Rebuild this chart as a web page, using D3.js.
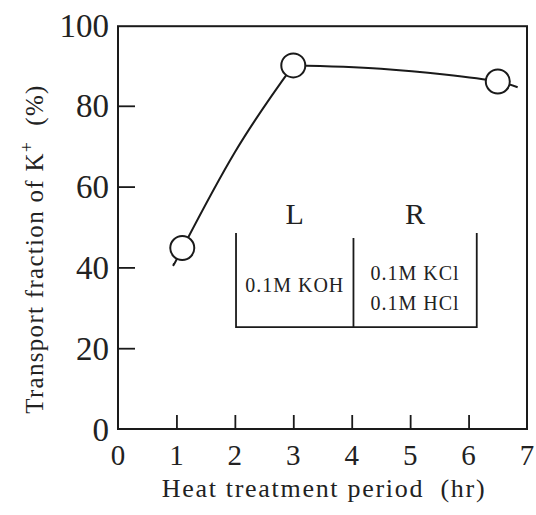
<!DOCTYPE html>
<html>
<head>
<meta charset="utf-8">
<script src="https://cdn.jsdelivr.net/npm/d3@7"></script>
<style>
    body { margin: 0; background: #fff; }
    svg text { font-family: "Liberation Serif", "DejaVu Serif", serif; fill: #222; }
</style>
</head>
<body>
<div id="chart"></div>
<script>
// measured points (hr, %)
let pointHours = [1.1, 3, 6.5];
let pointValues = [44.8, 90, 86];

// hand drawn fit curve, rising part and plateau part
let riseHours = [0.96, 1.1, 2, 3];
let riseValues = [41, 44.6, 68.5, 90];
let plateauHours = [3, 4.5, 6.5, 6.84];
let plateauValues = [90, 89.2, 86, 84.6];

let xTicks = [0, 1, 2, 3, 4, 5, 6, 7];
let yTicks = [0, 20, 40, 60, 80, 100];

// inset cell sketch: L / R compartments
let insetLeft = ["0.1M KOH"];
let insetRight = ["0.1M KCl", "0.1M HCl"];

let width = 536, height = 515;
let margin = {top: 25, right: 9, bottom: 86, left: 118};

let svg = d3.select("#chart").append("svg")
    .attr("width", width)
    .attr("height", height);

svg.append("rect").attr("width", width).attr("height", height).attr("fill", "#fff");

let x = d3.scaleLinear().domain([0, 7]).range([margin.left, width - margin.right]);
let y = d3.scaleLinear().domain([0, 100]).range([height - margin.bottom, margin.top]);

let ink = "#1a1a1a";

// frame
svg.append("rect")
    .attr("x", x(0))
    .attr("y", y(99.7))
    .attr("width", x(7) - x(0))
    .attr("height", y(0) - y(99.7))
    .attr("fill", "none")
    .attr("stroke", ink)
    .attr("stroke-width", 2);

// ticks pointing inward
let xAxis = d3.axisTop(x).tickValues(xTicks.slice(1, -1)).tickSize(14).tickFormat("");
svg.append("g")
    .attr("transform", `translate(0, ${y(0)})`)
    .call(xAxis)
    .call(g => g.select(".domain").remove())
    .selectAll("line").attr("stroke", ink).attr("stroke-width", 1.8);

let yAxis = d3.axisRight(y).tickValues(yTicks.slice(1, -1)).tickSize(17).tickFormat("");
svg.append("g")
    .attr("transform", `translate(${x(0)}, 0)`)
    .call(yAxis)
    .call(g => g.select(".domain").remove())
    .selectAll("line").attr("stroke", ink).attr("stroke-width", 1.8);

// tick labels
svg.selectAll(".xlab")
    .data(xTicks)
    .enter().append("text")
    .attr("class", "xlab")
    .attr("x", d => x(d))
    .attr("y", y(0) + 36)
    .attr("text-anchor", "middle")
    .style("font-size", "29px")
    .text(d => d);

svg.selectAll(".ylab")
    .data(yTicks)
    .enter().append("text")
    .attr("class", "ylab")
    .attr("x", x(0) - 9)
    .attr("y", d => y(d))
    .attr("dy", "0.35em")
    .attr("text-anchor", "end")
    .style("font-size", "33px")
    .text(d => d);

// axis titles
svg.append("text")
    .attr("x", 324)
    .attr("y", 497)
    .attr("text-anchor", "middle")
    .style("font-size", "26px")
    .style("letter-spacing", "1.7px")
    .text("Heat treatment period\u00a0\u00a0(hr)");

let yTitle = svg.append("text")
    .attr("transform", `translate(43, 249) rotate(-90)`)
    .attr("text-anchor", "middle")
    .style("font-size", "25px")
    .style("letter-spacing", "1.3px");
yTitle.append("tspan").text("Transport fraction of K");
yTitle.append("tspan").attr("dy", -10).style("font-size", "18px").text("+");
yTitle.append("tspan").attr("dy", 10).text("\u00a0\u00a0(%)");

// curve
let riseLine = d3.line()
    .x(d => x(d.h))
    .y(d => y(d.v))
    .curve(d3.curveNatural);

let plateauLine = d3.line()
    .x(d => x(d.h))
    .y(d => y(d.v))
    .curve(d3.curveCatmullRom.alpha(0.5));

svg.append("path")
    .datum(riseHours.map((h, i) => ({h: h, v: riseValues[i]})))
    .attr("d", riseLine)
    .attr("fill", "none")
    .attr("stroke", ink)
    .attr("stroke-width", 2);

svg.append("path")
    .datum(plateauHours.map((h, i) => ({h: h, v: plateauValues[i]})))
    .attr("d", plateauLine)
    .attr("fill", "none")
    .attr("stroke", ink)
    .attr("stroke-width", 2);

// points
let points = pointHours.map((h, i) => ({h: h, v: pointValues[i]}));
svg.selectAll(".pt")
    .data(points)
    .enter().append("circle")
    .attr("class", "pt")
    .attr("cx", d => x(d.h))
    .attr("cy", d => y(d.v))
    .attr("r", 12)
    .attr("fill", "#fff")
    .attr("stroke", ink)
    .attr("stroke-width", 2);

// inset: two compartment cell
let inset = svg.append("g");
let bx0 = x(2.02), bxm = x(4.03), bx1 = x(6.14);
let byTop = y(48.5), byMid = y(47.3), byBot = y(25.2);

inset.append("path")
    .attr("d", `M${bx0},${byTop}V${byBot}H${bx1}V${byTop}M${bxm},${byMid}V${byBot}`)
    .attr("fill", "none")
    .attr("stroke", ink)
    .attr("stroke-width", 1.8);

inset.append("text")
    .attr("x", (bx0 + bxm) / 2)
    .attr("y", y(50.8))
    .attr("text-anchor", "middle")
    .style("font-size", "30px")
    .text("L");

inset.append("text")
    .attr("x", (bxm + bx1) / 2)
    .attr("y", y(50.8))
    .attr("text-anchor", "middle")
    .style("font-size", "30px")
    .text("R");

inset.selectAll(".lsol")
    .data(insetLeft)
    .enter().append("text")
    .attr("x", (bx0 + bxm) / 2)
    .attr("y", y(33.9))
    .attr("text-anchor", "middle")
    .style("font-size", "20px")
    .style("letter-spacing", "1px")
    .text(d => d);

inset.selectAll(".rsol")
    .data(insetRight)
    .enter().append("text")
    .attr("x", (bxm + bx1) / 2)
    .attr("y", (d, i) => y(36.9) + i * 30)
    .attr("text-anchor", "middle")
    .style("font-size", "20px")
    .style("letter-spacing", "1px")
    .text(d => d);
</script>
</body>
</html>
